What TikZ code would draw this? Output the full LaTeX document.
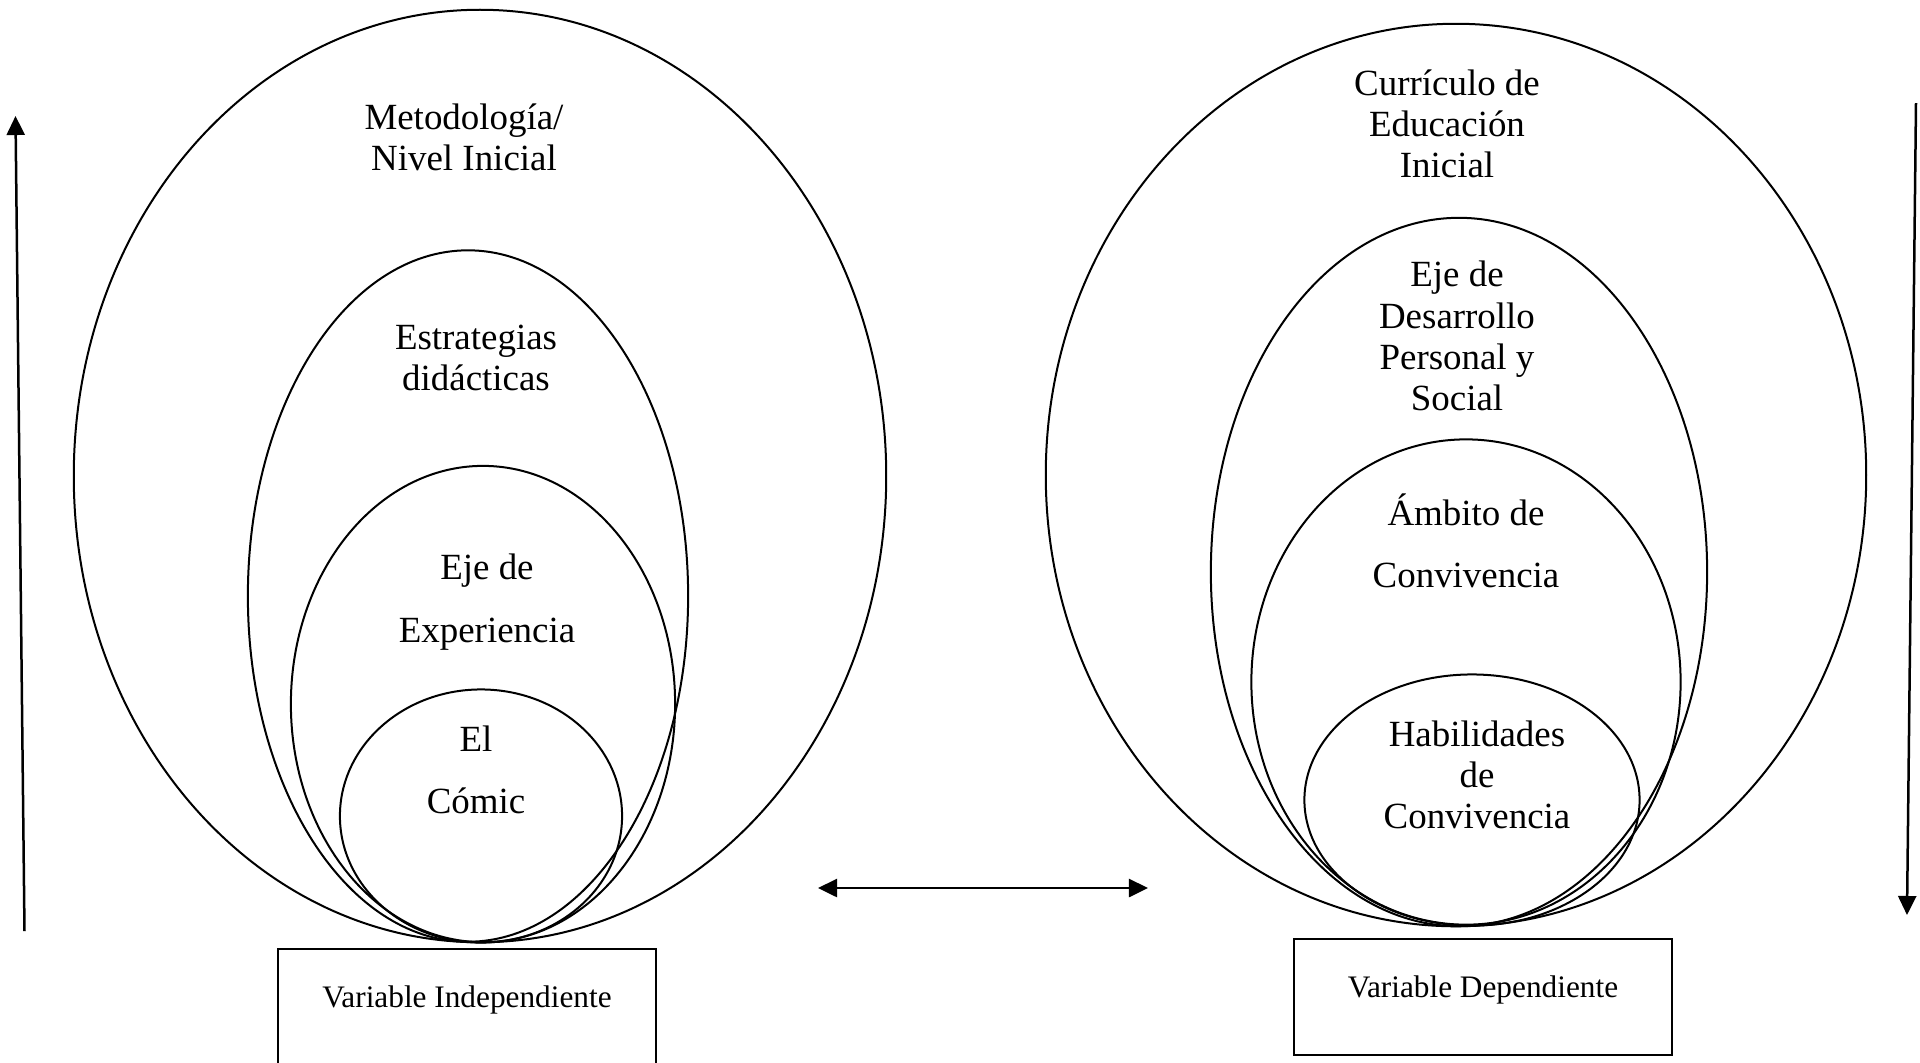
\documentclass[tikz,border=0pt]{standalone}
\usepackage{fontspec}
\setmainfont{Liberation Serif}
\usetikzlibrary{shapes.geometric,arrows.meta}

\newcommand\lblsize{\fontsize{10.5}{11.7}\selectfont}
\newcommand\widesize{\fontsize{10.5}{17.7}\selectfont}
\newcommand\boxsize{\fontsize{8.9}{10}\selectfont}

\begin{document}
\begin{tikzpicture}[x=0.01cm,y=-0.01cm,
    >={Triangle[length=0.19cm,width=0.18cm]},
    ring/.style={draw,ellipse,line width=0.02cm,inner sep=0pt},
    lbl/.style={align=center,inner sep=0pt,font=\lblsize},
    varbox/.style={draw,line width=0.02cm,minimum width=3.77cm,minimum height=1.16cm,
      text height=0.21cm,text depth=0.21cm,font=\boxsize},
    arr/.style={line width=0.025cm}]
  \useasboundingbox (0,0) rectangle (1920,1062);
  \clip (0,0) rectangle (1920,1062);

  % independent side
  \node[ring,minimum width=8.12cm,minimum height=9.32cm] (metodo) at (480,476) {};
  \node[ring,minimum width=4.40cm,minimum height=6.91cm] (estrat) at (468,596) {};
  \node[ring,minimum width=3.84cm,minimum height=4.76cm] (eje) at (483,704) {};
  \node[ring,minimum width=2.82cm,minimum height=2.53cm] (comic) at (481,816) {};

  \node[lbl] (metodotxt) at (464,137) {Metodología/\\Nivel Inicial};
  \node[lbl] (estrattxt) at (476,358) {Estrategias\\didácticas};
  \node[lbl,font=\widesize] (ejetxt) at (487,602) {Eje de\\Experiencia};
  \node[lbl,font=\widesize] (comictxt) at (476,770) {El\\Cómic};

  \node[varbox] (indep) at (467,1007) {Variable Independiente};

  % dependent side
  \node[ring,minimum width=8.20cm,minimum height=9.02cm] (curric) at (1456,475) {};
  \node[ring,minimum width=4.96cm,minimum height=7.08cm] (desarr) at (1459,572) {};
  \node[ring,minimum width=4.29cm,minimum height=4.85cm] (ambito) at (1466,682) {};
  \node[ring,minimum width=3.35cm,minimum height=2.51cm] (habil) at (1472,800) {};

  \node[lbl] (currictxt) at (1447,124) {Currículo de\\Educación\\Inicial};
  \node[lbl] (desarrtxt) at (1457,336) {Eje de\\Desarrollo\\Personal y\\Social};
  \node[lbl,font=\widesize] (ambitotxt) at (1466,541) {Ámbito de\\Convivencia};
  \node[lbl] (habiltxt) at (1477,775) {Habilidades\\de\\Convivencia};

  \node[varbox] (dep) at (1483,997) {Variable Dependiente};

  % arrows
  \coordinate (uplow) at (24.5,931);
  \coordinate (uphigh) at (15.5,116);
  \coordinate (downhigh) at (1916,103);
  \coordinate (downlow) at (1907,915);
  \coordinate (linkl) at (818,888);
  \coordinate (linkr) at (1148,888);

  \draw[arr,->] (uplow) -- (uphigh);
  \draw[arr,->] (downhigh) -- (downlow);
  \draw[arr,<->] (linkl) -- (linkr);
\end{tikzpicture}
\end{document}
